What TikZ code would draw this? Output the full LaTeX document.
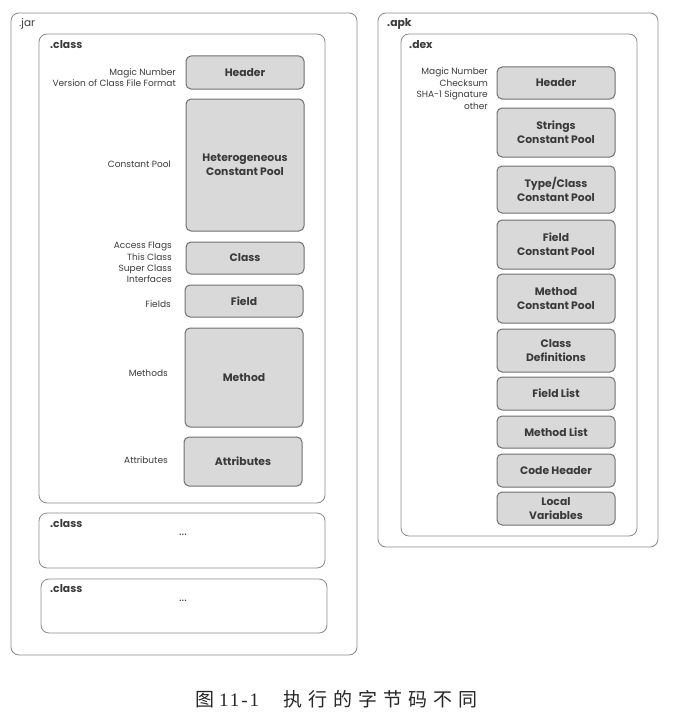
\documentclass[tikz,border=0pt]{standalone}
\usepackage{fontspec}
\setmainfont{Poppins}
\newfontfamily\cjk{Noto Sans CJK SC}
\newfontfamily\capfont{Liberation Serif}
\definecolor{boxfill}{HTML}{D9D9D9}
\definecolor{boxline}{HTML}{707070}
\definecolor{contline}{HTML}{8A8A8A}
\definecolor{txt}{HTML}{3A3A3A}
\begin{document}
\begin{tikzpicture}[x=1pt,y=-1pt,
  cont/.style={draw=contline,line width=0.8pt,rounded corners=8pt,minimum width=#1,inner sep=0pt},
  bx/.style={draw=boxline,fill=boxfill,line width=1pt,rounded corners=5pt,minimum width=118pt,inner sep=0pt,align=center,font=\fontsize{10.8}{14}\selectfont\bfseries,text=txt},
  lbl/.style={anchor=east,align=right,font=\fontsize{9}{11.3}\selectfont,text=txt,inner sep=0pt},
  ctitle/.style={anchor=west,font=\fontsize{10.8}{12}\selectfont\bfseries,text=txt,inner sep=0pt},
  dots/.style={font=\fontsize{12}{12}\selectfont,text=txt,inner sep=0pt}]
\useasboundingbox (0,0) rectangle (673,717);
% containers
\node[cont=346pt,minimum height=642pt] (jar) at (184,334) {};
\node[cont=286pt,minimum height=469pt] (class1) at (182,268.5) {};
\node[cont=286pt,minimum height=55pt] (class2) at (182,540.5) {};
\node[cont=286pt,minimum height=54pt] (class3) at (184,606) {};
\node[cont=280pt,minimum height=534pt] (apk) at (518,280) {};
\node[cont=236pt,minimum height=502pt] (dex) at (519,285) {};
% container titles
\node[ctitle,font=\fontsize{10.5}{12}\selectfont] (tjar) at (19,24) {.jar};
\node[ctitle] (tclass1) at (50,45) {.class};
\node[ctitle] (tclass2) at (50,524) {.class};
\node[ctitle] (tclass3) at (50,589) {.class};
\node[ctitle] (tapk) at (387,24) {.apk};
\node[ctitle] (tdex) at (409,45) {.dex};
\node[dots] (d2) at (183,535) {...};
\node[dots] (d3) at (183,601) {...};
% left boxes
\node[bx,minimum height=33pt] (lheader) at (245,72.5) {Header};
\node[bx,minimum height=132pt] (lhetero) at (245,165) {Heterogeneous\\Constant Pool};
\node[bx,minimum height=32pt] (lclass) at (245,258) {Class};
\node[bx,minimum height=32pt] (lfield) at (244,301) {Field};
\node[bx,minimum height=99pt] (lmethod) at (244,377.5) {Method};
\node[bx,minimum height=49pt] (lattr) at (243,461.5) {Attributes};
% left labels
\node[lbl] (llhead) at (176,77.5) {Magic Number\\Version of Class File Format};
\node[lbl] (llcp) at (171,164) {Constant Pool};
\node[lbl] (llclass) at (172,262.5) {Access Flags\\This Class\\Super Class\\Interfaces};
\node[lbl] (llfield) at (171,304) {Fields};
\node[lbl] (llmeth) at (168,373) {Methods};
\node[lbl] (llattr) at (168,460) {Attributes};
% right boxes
\node[bx,minimum height=32pt] (rheader) at (556,83) {Header};
\node[bx,minimum height=49pt] (rstr) at (556,132.5) {Strings\\Constant Pool};
\node[bx,minimum height=47pt] (rtype) at (556,189.5) {Type/Class\\Constant Pool};
\node[bx,minimum height=49pt] (rfield) at (556,244.5) {Field\\Constant Pool};
\node[bx,minimum height=49pt] (rmeth) at (556,298.5) {Method\\Constant Pool};
\node[bx,minimum height=43pt] (rcdef) at (556,350.5) {Class\\Definitions};
\node[bx,minimum height=33pt] (rflist) at (556,393.5) {Field List};
\node[bx,minimum height=32pt] (rmlist) at (556,432) {Method List};
\node[bx,minimum height=33pt] (rcode) at (556,470.5) {Code Header};
\node[bx,minimum height=33pt] (rlocal) at (556,508.5) {Local\\Variables};
% right labels
\node[lbl,font=\fontsize{9}{11.7}\selectfont] (rlhead) at (488,88.5) {Magic Number\\Checksum\\SHA-1 Signature\\other};
% caption
\node[inner sep=0pt,text=black!85,anchor=west] (cap) at (195,699) {\fontsize{19}{20}\selectfont\cjk 图\hspace{5pt}{\capfont\addfontfeature{LetterSpace=10}11-1}\hspace{24pt}{\addfontfeature{LetterSpace=32}执行的字节码不同}};
\end{tikzpicture}
\end{document}
